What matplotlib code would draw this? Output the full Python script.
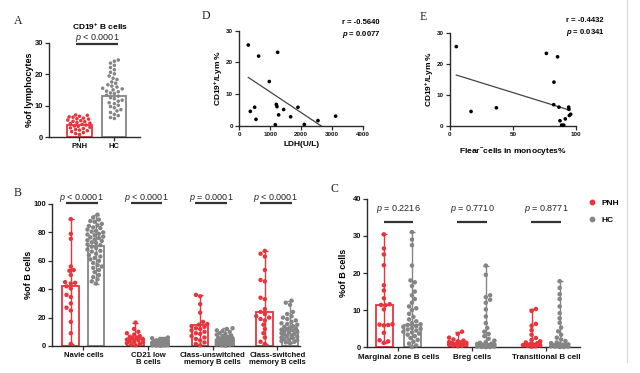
import numpy as np
import matplotlib
matplotlib.use("Agg")
import matplotlib.pyplot as plt
from matplotlib.lines import Line2D

plt.rcParams['font.family'] = ['Liberation Sans', 'DejaVu Sans']
plt.rcParams['mathtext.fontset'] = 'custom'
plt.rcParams['mathtext.rm'] = 'Liberation Sans'
plt.rcParams['mathtext.it'] = 'Liberation Sans:italic'
plt.rcParams['mathtext.bf'] = 'Liberation Sans:bold'
plt.rcParams['mathtext.bfit'] = 'Liberation Sans:bold:italic'

RED = '#E8343B'
GRAY = '#858585'
AXC = '#2a2a2a'

# ---------------- data ----------------
# Panel A: CD19+ B cells (% of lymphocytes)
a_groups = ['PNH', 'HC']
a_pnh = [7.0, 6.9, 6.6, 6.4, 6.3, 6.0, 5.8, 5.7, 5.4, 5.2, 5.0, 4.9, 4.6, 4.4, 4.3,
         4.0, 3.8, 3.5, 3.4, 3.1, 2.9, 2.7, 2.4, 2.2, 2.0, 1.7, 1.4, 1.1, 0.8]
a_hc = [24.5, 24.1, 23.5, 22.8, 22.1, 21.4, 20.6, 20.1, 19.4, 18.7, 18.3, 17.5, 17.1,
        16.6, 16.2, 15.9, 15.5, 15.3, 15.0, 14.6, 14.4, 14.0, 13.8, 13.3, 13.0, 12.5,
        12.2, 11.7, 11.4, 10.9, 10.6, 10.1, 9.7, 9.3, 8.7, 8.3, 7.8, 7.2, 6.8, 6.2, 5.9]
a_bars = [3.9, 13.0]

# Panel D: CD19+/Lym % vs LDH
d_ldh = [290, 624, 1237, 968, 355, 495, 538, 1194, 1215, 1430, 1269, 1161, 1656, 1892,
         2097, 2538, 3108]
d_cd19 = [25.5, 22.0, 23.2, 14.0, 4.6, 5.9, 2.1, 6.8, 6.1, 5.2, 3.5, 0.4, 2.9, 5.9,
          0.5, 1.7, 3.1]
d_fit_x = [290, 2645]          # regression line ends
d_fit_y = [15.3, 0.0]

# Panel E: CD19+/Lym % vs Flaer- cells in monocytes %
e_flaer = [5, 16.7, 36.8, 76.5, 85.4, 82.5, 82.3, 86.5, 87.3, 88.6, 90.2, 91.5, 94.2,
           94.4, 94.7, 95.8]
e_cd19 = [25.6, 4.6, 5.8, 23.4, 22.3, 14.1, 6.8, 6.0, 1.6, 0.2, 0.2, 2.2, 6.0, 5.3,
          3.3, 3.7]
e_fit_x = [5, 94.4]
e_fit_y = [16.4, 5.1]

# Panel B: % of B cells
b_cats = ['Navie cells', 'CD21 low\nB cells', 'Class-unswitched\nmemory B cells',
          'Class-switched\nmemory B cells']
b_pvals = ['< 0.0001', '< 0.0001', '= 0.0001', '< 0.0001']
b_pnh = [
    [89.4, 79, 75.5, 56, 53.5, 53, 50, 45, 44.5, 44, 42, 40.5, 36, 34.5, 30, 27, 25, 17, 9, 1.5],
    [16.5, 12, 10, 9, 8, 7, 6.5, 6, 5.5, 5, 4.5, 4, 3.5, 3, 2.5, 2, 1.5, 1, 0.5],
    [36, 35, 29.5, 23.5, 17, 15.5, 15, 14, 13.5, 12.5, 12, 11, 10, 9, 8.5, 7, 6, 5, 4,
     2.5, 1.5, 0.5],
    [67, 65, 63, 53.5, 46.5, 45.5, 34, 33, 26, 24, 22.5, 21, 20, 19, 18, 15, 12, 9, 6,
     3, 1.5],
]
b_hc = [
    [92.5, 90.5, 89, 88, 87.5, 86, 85, 84.5, 83.5, 83, 82, 81, 80.5, 80, 79, 78.5, 78,
     77, 76.5, 76, 75, 74.5, 74, 73, 72.5, 71.5, 71, 70, 69, 68, 67, 66.5, 65, 64, 63,
     62, 61, 60, 58.5, 57, 56, 55, 53.5, 52, 50, 48.5, 47, 45.5, 44],
    [6, 5.5, 5, 4.5, 4.2, 4, 3.8, 3.5, 3.3, 3, 2.8, 2.6, 2.4, 2.2, 2, 1.9, 1.8, 1.6,
     1.5, 1.4, 1.3, 1.2, 1.1, 1, 0.9, 0.8, 0.7, 0.6, 0.5, 0.4, 0.3, 0.2],
    [12.5, 12, 11, 10.5, 10, 9, 8.5, 8, 7.5, 7, 6.5, 6, 5.8, 5.5, 5, 4.8, 4.5, 4.2, 4,
     3.8, 3.5, 3.2, 3, 2.8, 2.5, 2.2, 2, 1.8, 1.5, 1.2, 1, 0.8, 0.5, 0.3],
    [32, 30.5, 29, 24, 22.5, 21, 20, 19, 18, 17, 16, 15.5, 15, 14, 13.5, 13, 12.5, 12,
     11.5, 11, 10.5, 10, 9.5, 9, 8.5, 8, 7.5, 7, 6.5, 6, 5.5, 5, 4.5, 4, 3.5, 3, 2.5, 2],
]
b_bars_pnh = [42.3, 5.0, 14.5, 24.2]
b_bars_hc = [70.4, 2.0, 4.5, 11.5]

# Panel C: % of B cells
c_cats = ['Marginal zone B cells', 'Breg cells', 'Transitional B cell']
c_pvals = ['= 0.2216', '= 0.7710', '= 0.8771']
c_pnh = [
    [30.4, 26.6, 25.0, 22.1, 16.7, 15.3, 13.2, 11.6, 11.4, 11.3, 10.2, 6.2, 6.1, 6.0,
     5.9, 3.9, 1.9, 1.6, 1.2],
    [4.2, 3.6, 2.6, 2.1, 1.8, 1.6, 1.4, 1.3, 1.2, 1.1, 1.0, 0.9, 0.8, 0.7, 0.6, 0.5,
     0.4, 0.3],
    [10.3, 9.8, 6.3, 5.8, 4.6, 3.4, 2.5, 2, 1.6, 1.3, 1.1, 0.9, 0.8, 0.6, 0.5, 0.4,
     0.3, 0.2],
]
c_hc = [
    [31, 29, 27.5, 22, 18, 17.5, 16.5, 15, 14, 13, 12, 11, 10.5, 10, 9, 8.2, 7.5, 7,
     6.5, 6.2, 6, 5.7, 5.5, 5.2, 5, 4.8, 4.5, 4.2, 4, 3.7, 3.4, 3, 2.5, 2, 1.5, 1, 0.5,
     0.1],
    [22, 19.5, 14, 13.5, 12.8, 12, 10.2, 8.3, 6.5, 5.2, 4.2, 3.6, 3, 2.3, 1.8, 1.4,
     1.2, 1, 0.9, 0.8, 0.7, 0.6, 0.5, 0.4, 0.4, 0.3, 0.3, 0.2, 0.2, 0.1, 0.1, 0.05],
    [17.8, 16, 14.3, 13, 11, 9.2, 7.8, 6.6, 5.3, 4.3, 3.4, 2.6, 2.1, 1.7, 1.3, 1.1,
     0.9, 0.8, 0.7, 0.6, 0.5, 0.4, 0.3, 0.3, 0.2, 0.2, 0.1, 0.1],
]
c_bars_pnh = [11.5, 1.2, 0.8]
c_bars_hc = [6.0, 0.8, 0.8]

# ---------------- layout helpers ----------------
W, H = 640, 373
fig = plt.figure(figsize=(W / 100, H / 100), dpi=100)


def px_axes(l, r, b, t):
    return fig.add_axes([l / W, (H - b) / H, (r - l) / W, (b - t) / H])


def fx(x):
    return x / W


def fy(y):
    return (H - y) / H


def style(ax, fs=5):
    for s in ['top', 'right']:
        ax.spines[s].set_visible(False)
    for s in ['left', 'bottom']:
        ax.spines[s].set_color(AXC)
        ax.spines[s].set_linewidth(1.0)
    ax.tick_params(direction='out', length=3, width=0.9, color=AXC, labelsize=fs,
                   pad=1.5, labelcolor='#111')
    for lab in ax.get_xticklabels() + ax.get_yticklabels():
        lab.set_fontweight('bold')


def swarm(ax, xc, vals, diam, maxhalf):
    vals = np.asarray(vals, float)
    pts = ax.transData.transform(np.column_stack([np.full(len(vals), xc), vals]))
    ys = pts[:, 1]
    x0 = pts[0, 0]
    order = np.argsort(ys)
    cands = sorted(np.arange(-maxhalf, maxhalf + 0.01, diam / 3.0), key=abs)
    placed = []
    xs = np.zeros(len(vals))
    for i in order:
        best, bestd = 0.0, -1
        for c in cands:
            if placed:
                md = min(np.hypot(c - px, ys[i] - py) for px, py in placed)
            else:
                md = np.inf
            if md >= diam:
                best = c
                break
            if md > bestd:
                bestd, best = md, c
        placed.append((best, ys[i]))
        xs[i] = x0 + best
    inv = ax.transData.inverted()
    return inv.transform(np.column_stack([xs, ys]))[:, 0]


def column(ax, xc, vals, bar_h, color, width, s, diam, maxhalf, errbar=True):
    ax.bar(xc, bar_h, width=width, facecolor='white', edgecolor=color, linewidth=1.3,
           zorder=1)
    if errbar:
        lo, hi = min(vals), max(vals)
        ax.errorbar(xc, bar_h, yerr=[[bar_h - lo], [hi - bar_h]], color=color,
                    elinewidth=1.0, capsize=2.5, capthick=1.0, zorder=2, clip_on=False)
    xs = swarm(ax, xc, vals, diam, maxhalf)
    ax.scatter(xs, vals, s=s, color=color, edgecolors='none', zorder=3, clip_on=False)


def pline(ax, x0, x1, y_line, y_text, txt, fs):
    ax.plot([x0, x1], [y_line, y_line], color='#333', lw=1.6, clip_on=False,
            solid_capstyle='butt')
    ax.text((x0 + x1) / 2, y_text, r'$\it{p}$ ' + txt, ha='center', va='center',
            fontsize=fs, color='#222', clip_on=False)


# ---------------- Panel A ----------------
axA = px_axes(49.3, 140, 137, 42.7)
axA.set_xlim(-0.86, 1.74)
axA.set_ylim(0, 30)
axA.set_yticks([0, 10, 20, 30])
axA.set_xticks([0, 1])
axA.set_xticklabels(a_groups)
style(axA, 5.5)
column(axA, 0, a_pnh, a_bars[0], RED, 0.7, 6.5, 3.9, 11.5, errbar=False)
column(axA, 1, a_hc, a_bars[1], GRAY, 0.7, 6.5, 3.9, 11.5, errbar=False)
axA.set_ylabel('%of lymphocytes', fontsize=6.5, fontweight='bold', labelpad=0.5)
axA.set_title(r'CD19$^{\mathbf{+}}$ B cells', fontsize=6, fontweight='bold', pad=0,
              y=1.0)
axA.title.set_position((0.56, 1.13))
pline(axA, -0.09, 1.11, 29.6, 31.5, '< 0.0001', 6.5)

# ---------------- Panel D ----------------
axD = px_axes(239.3, 363.3, 126, 30.7)
axD.set_xlim(0, 4000)
axD.set_ylim(0, 30)
axD.set_xticks([0, 1000, 2000, 3000, 4000])
axD.set_yticks([0, 10, 20, 30])
style(axD, 4.5)
axD.scatter(d_ldh, d_cd19, s=7, color='black', edgecolors='none', zorder=3, clip_on=False)
axD.plot(d_fit_x, d_fit_y, color='#444', lw=0.9)
axD.set_xlabel('LDH(U/L)', fontsize=6, fontweight='bold', labelpad=3)
axD.set_ylabel(r'CD19$^{\mathbf{+}}$/Lym %', fontsize=6, fontweight='bold', labelpad=0.5)
fig.text(fx(341.5), fy(22), 'r = -0.5640', fontsize=5.5, fontweight='bold', va='center')
fig.text(fx(341.5), fy(35), r'$\mathbfit{p}$ = 0.0077', fontsize=5.5, fontweight='bold',
         va='center')

# ---------------- Panel E ----------------
axE = px_axes(450, 576, 125.7, 33)
axE.set_xlim(0, 100)
axE.set_ylim(0, 30)
axE.set_xticks([0, 50, 100])
axE.set_yticks([0, 10, 20, 30])
style(axE, 4.5)
axE.scatter(e_flaer, e_cd19, s=7, color='black', edgecolors='none', zorder=3, clip_on=False)
axE.plot(e_fit_x, e_fit_y, color='#444', lw=0.9)
axE.set_xlabel(r'Flear$^{\mathbf{-}}$cells in monocytes%', fontsize=6, fontweight='bold',
               labelpad=7)
axE.set_ylabel(r'CD19$^{\mathbf{+}}$/Lym %', fontsize=6, fontweight='bold', labelpad=0.5)
fig.text(fx(566.5), fy(21), 'r = -0.4432', fontsize=5.5, fontweight='bold', va='center')
fig.text(fx(566.5), fy(33), r'$\mathbfit{p}$ = 0.0341', fontsize=5.5, fontweight='bold',
         va='center')

# ---------------- Panel B ----------------
axB = px_axes(52.3, 300, 346, 204)
axB.set_xlim(-0.48, 3.35)
axB.set_ylim(0, 100)
axB.set_yticks([0, 20, 40, 60, 80, 100])
axB.set_xticks(range(len(b_cats)))
axB.set_xticklabels(b_cats, linespacing=1.05)
style(axB, 5.6)
off, bw = 0.195, 0.26
for i in range(len(b_cats)):
    column(axB, i - off, b_pnh[i], b_bars_pnh[i], RED, bw, 10, 4.3, 8.5)
    column(axB, i + off, b_hc[i], b_bars_hc[i], GRAY, bw, 10, 4.3, 8.5)
    pline(axB, i - 0.27, i + 0.22, 100.7, 104.5, b_pvals[i], 6.5)
for lab in axB.get_yticklabels():
    lab.set_fontsize(5.5)
axB.set_ylabel('%of B cells', fontsize=6.5, fontweight='bold', labelpad=0.5)

# ---------------- Panel C ----------------
axC = px_axes(367.3, 580, 347.3, 198.7)
axC.set_xlim(-0.42, 2.46)
axC.set_ylim(0, 40)
axC.set_yticks([0, 10, 20, 30, 40])
axC.set_xticks(range(len(c_cats)))
axC.set_xticklabels(c_cats)
style(axC, 5.8)
off, bw = 0.19, 0.235
for i in range(len(c_cats)):
    column(axC, i - off, c_pnh[i], c_bars_pnh[i], RED, bw, 10.5, 4.3, 9)
    column(axC, i + off, c_hc[i], c_bars_hc[i], GRAY, bw, 10.5, 4.3, 9)
    pline(axC, i - 0.2, i + 0.2, 33.8, 37.1, c_pvals[i], 6.5)
for lab in axC.get_yticklabels():
    lab.set_fontsize(5.5)
axC.set_ylabel('%of B cells', fontsize=6.5, fontweight='bold', labelpad=3)

handles = [Line2D([], [], marker='o', ls='none', color=RED, markersize=3.2),
           Line2D([], [], marker='o', ls='none', color=GRAY, markersize=3.2)]
fig.legend(handles, ['PNH', 'HC'], loc='upper left', bbox_to_anchor=(fx(588), fy(199)),
           frameon=False, prop={'weight': 'bold', 'size': 6}, handlelength=1.0,
           handletextpad=0.6, labelspacing=1.1, borderpad=0, borderaxespad=0)

# panel letters
for letter, x, y in [('A', 18, 20.5), ('D', 205.7, 16.3), ('E', 423, 17),
                     ('B', 17.5, 193.5), ('C', 334, 189)]:
    fig.text(fx(x), fy(y), letter, fontsize=8.5, family='Liberation Serif',
             ha='center', va='center', color='#222')

# faint scan edge line at right
fig.add_artist(Line2D([fx(627), fx(627)], [fy(0), fy(362)], color='#d8d8d8', lw=0.8))

fig.savefig('out.png', dpi=100, facecolor='white')
